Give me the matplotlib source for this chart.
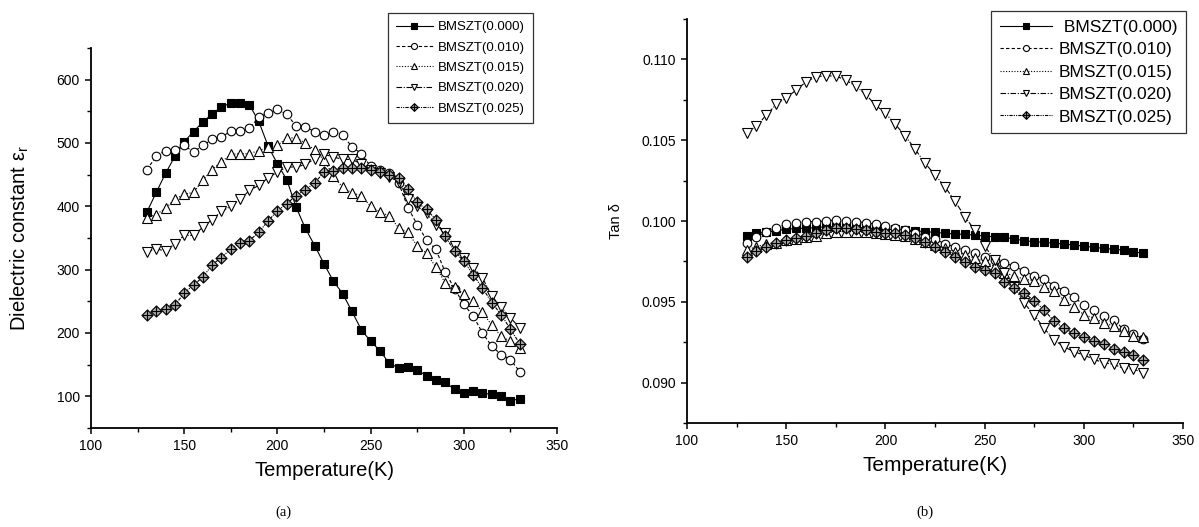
import matplotlib
matplotlib.use("Agg")
import matplotlib.pyplot as plt
from matplotlib.path import Path
from matplotlib.ticker import MultipleLocator, FormatStrFormatter

plt.rcParams['font.family'] = ['Liberation Sans', 'DejaVu Sans']

temperature = [130, 135, 140, 145, 150, 155, 160, 165, 170, 175, 180, 185, 190, 195, 200,
               205, 210, 215, 220, 225, 230, 235, 240, 245, 250, 255, 260, 265, 270, 275,
               280, 285, 290, 295, 300, 305, 310, 315, 320, 325, 330]

labels = ["BMSZT(0.000)", "BMSZT(0.010)", "BMSZT(0.015)", "BMSZT(0.020)", "BMSZT(0.025)"]

eps_000 = [391, 422, 452, 479, 502, 518, 533, 546, 557, 563, 563, 560, 534, 495, 467, 442, 399,
           365, 338, 309, 282, 262, 234, 205, 187, 172, 152, 145, 147, 142, 132, 126, 122, 111,
           106, 109, 105, 103, 101, 93, 96]
eps_010 = [458, 479, 488, 489, 496, 486, 496, 506, 509, 519, 519, 523, 541, 547, 553, 545, 527,
           525, 518, 512, 518, 512, 494, 483, 463, 458, 452, 437, 398, 371, 347, 332, 296, 270,
           245, 227, 200, 179, 166, 158, 139]
eps_015 = [382, 387, 397, 411, 419, 422, 441, 458, 470, 482, 483, 483, 488, 493, 496, 508, 508,
           500, 489, 473, 448, 430, 421, 417, 400, 391, 385, 366, 359, 337, 326, 304, 279, 273,
           261, 250, 233, 212, 195, 187, 176]
eps_020 = [328, 333, 329, 341, 354, 354, 367, 379, 392, 400, 411, 425, 433, 445, 454, 462, 462,
           466, 475, 482, 478, 474, 474, 467, 458, 452, 447, 438, 412, 400, 389, 371, 358, 337,
           318, 303, 287, 258, 241, 224, 208]
eps_025 = [229, 234, 238, 244, 263, 276, 288, 308, 319, 333, 342, 346, 359, 377, 393, 404, 417,
           426, 437, 454, 456, 460, 460, 460, 458, 454, 450, 445, 428, 406, 395, 379, 353, 329,
           313, 292, 271, 248, 229, 206, 183]

tan_000 = [0.09907, 0.09924, 0.09932, 0.0994, 0.09948, 0.09955, 0.09955, 0.09959, 0.09965, 0.09965,
           0.09961, 0.09961, 0.09957, 0.09953, 0.09948, 0.09948, 0.09944, 0.0994, 0.09934, 0.0993,
           0.09924, 0.0992, 0.09917, 0.09913, 0.09907, 0.09903, 0.09899, 0.09889, 0.09878, 0.09872,
           0.09868, 0.09862, 0.09858, 0.09851, 0.09845, 0.09837, 0.09831, 0.09825, 0.0982, 0.0981,
           0.098]
tan_010 = [0.09866, 0.09903, 0.09932, 0.09955, 0.09981, 0.0999, 0.09996, 0.09996, 0.1000, 0.10006,
           0.1000, 0.09996, 0.0999, 0.0998, 0.09969, 0.09959, 0.09944, 0.09928, 0.09903, 0.09887,
           0.0986, 0.0984, 0.0982, 0.0980, 0.0978, 0.0976, 0.0974, 0.0972, 0.0969, 0.0966,
           0.0964, 0.0960, 0.0957, 0.0953, 0.0948, 0.0945, 0.0941, 0.0939, 0.0933, 0.0930, 0.0927]
tan_015 = [0.09821, 0.09841, 0.09858, 0.09866, 0.09882, 0.09887, 0.09899, 0.09907, 0.09924, 0.09934,
           0.09934, 0.09934, 0.0993, 0.09924, 0.09917, 0.09913, 0.09907, 0.0989, 0.0987, 0.0985,
           0.0983, 0.0981, 0.0979, 0.0977, 0.0975, 0.0972, 0.0968, 0.0966, 0.0964, 0.0963,
           0.0959, 0.0957, 0.0951, 0.0947, 0.0942, 0.0940, 0.0937, 0.0935, 0.0932, 0.0929, 0.0928]
tan_020 = [0.10546, 0.10588, 0.10656, 0.10722, 0.10763, 0.1081, 0.10862, 0.10893, 0.10899, 0.10897,
           0.10872, 0.10835, 0.10784, 0.10718, 0.10666, 0.10598, 0.10526, 0.10444, 0.10357, 0.10285,
           0.10212, 0.10124, 0.10027, 0.09944, 0.09845, 0.0976, 0.0968, 0.0959, 0.09491, 0.09418,
           0.09336, 0.09264, 0.09222, 0.09191, 0.09171, 0.09144, 0.09123, 0.09113, 0.09088, 0.09084,
           0.09061]
tan_025 = [0.09779, 0.09816, 0.09841, 0.09862, 0.09882, 0.09897, 0.09907, 0.09924, 0.09944, 0.09955,
           0.09955, 0.09949, 0.09944, 0.09934, 0.09924, 0.09924, 0.09913, 0.09893, 0.09868, 0.09841,
           0.0981, 0.09779, 0.09748, 0.09717, 0.09697, 0.09676, 0.09625, 0.09584, 0.09553, 0.09507,
           0.09449, 0.0938, 0.09336, 0.09305, 0.0928, 0.0926, 0.0924, 0.0921, 0.0919, 0.0917, 0.0914]

# diamond with cross marker
diamond = Path([(0, 1), (1, 0), (0, -1), (-1, 0), (0, 1)],
               [Path.MOVETO, Path.LINETO, Path.LINETO, Path.LINETO, Path.CLOSEPOLY])
cross = Path([(0, 0.8), (0, -0.8), (-0.8, 0), (0.8, 0)],
             [Path.MOVETO, Path.LINETO, Path.MOVETO, Path.LINETO])
diamond_cross = Path.make_compound_path(diamond, cross)

styles = [
    dict(marker='s', ls='-', mfc='black', mec='black'),
    dict(marker='o', ls=(0, (3, 2)), mfc='white', mec='black'),
    dict(marker='^', ls=(0, (1, 1.5)), mfc='white', mec='black'),
    dict(marker='v', ls=(0, (5, 1.5, 1, 1.5)), mfc='white', mec='black'),
    dict(marker=diamond_cross, ls=(0, (3, 1, 1, 1, 1, 1)), mfc='#a8a8a8', mec='black'),
]

fig = plt.figure(figsize=(11.99, 5.27), dpi=100)
ax1 = fig.add_axes([0.0759, 0.1879, 0.3887, 0.7211])
ax2 = fig.add_axes([0.5730, 0.1973, 0.4137, 0.7666])


def style_axes(ax):
    for s in ['top', 'right']:
        ax.spines[s].set_visible(False)
    for s in ['left', 'bottom']:
        ax.spines[s].set_linewidth(1.3)
    ax.tick_params(which='major', direction='out', length=4.5, width=1.1, labelsize=10)
    ax.tick_params(which='minor', direction='out', length=3, width=1.0)


series_eps = [eps_000, eps_010, eps_015, eps_020, eps_025]
sizes = [6, 6.2, 6.8, 6.8, 8.0]
for vals, st, lab, ms in zip(series_eps, styles, labels, sizes):
    ax1.plot(temperature, vals, color='black', lw=0.8, ms=ms, mew=0.8, label=lab, **st)
ax1.set_xlim(100, 350)
ax1.set_ylim(50, 650)
ax1.xaxis.set_major_locator(MultipleLocator(50))
ax1.xaxis.set_minor_locator(MultipleLocator(25))
ax1.yaxis.set_major_locator(MultipleLocator(100))
ax1.yaxis.set_minor_locator(MultipleLocator(50))
style_axes(ax1)
ax1.set_yticks([100, 200, 300, 400, 500, 600])
ax1.set_xlabel('Temperature(K)', fontsize=14.5, labelpad=6)
ax1.set_ylabel('Dielectric constant ε$_\\mathregular{r}$', fontsize=14.5)
ax1.yaxis.set_label_coords(-0.128, 0.5)
leg1 = ax1.legend(loc='upper left', bbox_to_anchor=(0.637, 1.092), borderaxespad=0,
                  fontsize=9.5, frameon=True, fancybox=False, edgecolor='black',
                  handlelength=2.8, handletextpad=0.4, labelspacing=0.62, markerscale=0.7,
                  borderpad=0.6)
leg1.get_frame().set_linewidth(0.9)

series_tan = [tan_000, tan_010, tan_015, tan_020, tan_025]
labels_r = [" " + labels[0]] + labels[1:]
for vals, st, lab, ms in zip(series_tan, styles, labels_r, sizes):
    ax2.plot(temperature, vals, color='black', lw=0.8, ms=ms, mew=0.8, label=lab, **st)
ax2.set_xlim(100, 350)
ax2.set_ylim(0.0875, 0.1125)
ax2.xaxis.set_major_locator(MultipleLocator(50))
ax2.xaxis.set_minor_locator(MultipleLocator(25))
ax2.yaxis.set_major_locator(MultipleLocator(0.005))
ax2.yaxis.set_minor_locator(MultipleLocator(0.0025))
ax2.yaxis.set_major_formatter(FormatStrFormatter('%.3f'))
style_axes(ax2)
ax2.set_xlabel('Temperature(K)', fontsize=15, labelpad=6)
ax2.set_ylabel('Tan δ', fontsize=10.5)
ax2.yaxis.set_label_coords(-0.13, 0.5)
leg2 = ax2.legend(loc='upper left', bbox_to_anchor=(0.613, 1.02), borderaxespad=0,
                  fontsize=12.5, frameon=True, fancybox=False, edgecolor='black',
                  handlelength=3.0, handletextpad=0.4, labelspacing=0.42, markerscale=0.7,
                  borderpad=0.5)
leg2.get_frame().set_linewidth(0.9)

fig.text(283 / 1199, 1 - 512 / 527, '(a)', family='Liberation Serif', fontsize=10.5,
         ha='center', va='center')
fig.text(925 / 1199, 1 - 512 / 527, '(b)', family='Liberation Serif', fontsize=10.5,
         ha='center', va='center')

fig.savefig('out.png', dpi=100)
